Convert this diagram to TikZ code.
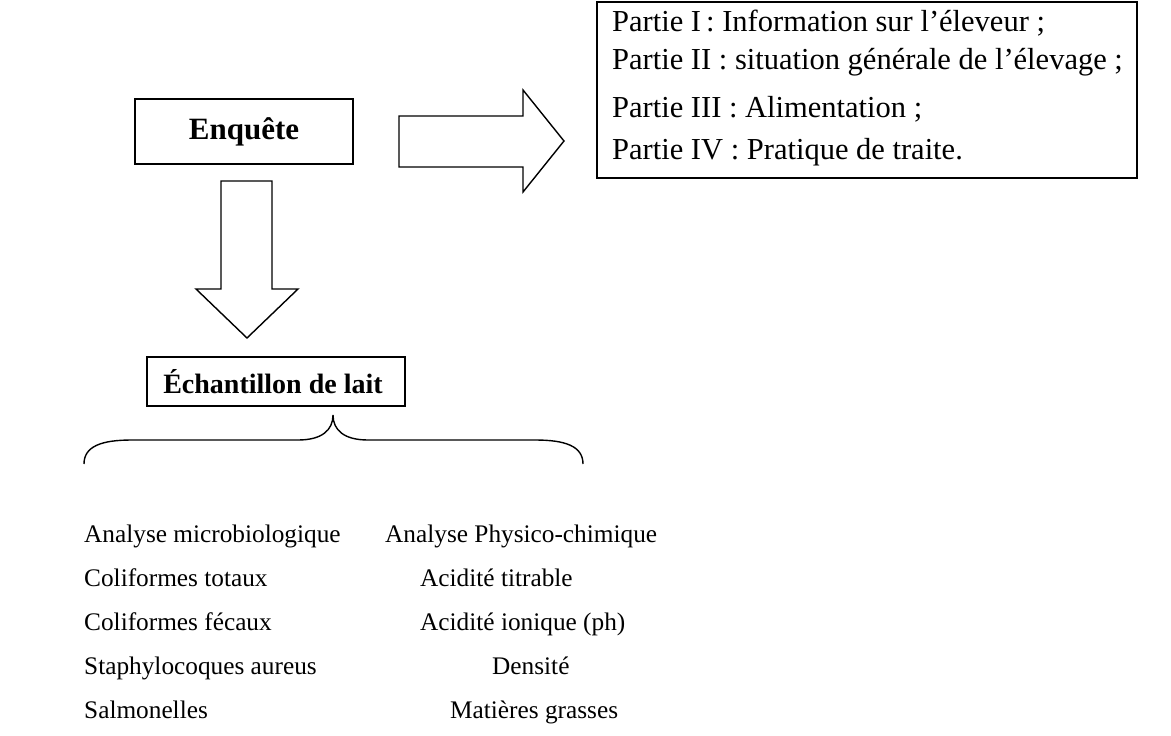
\documentclass[tikz,border=0pt]{standalone}
\usepackage{fontspec}
\setmainfont{Liberation Serif}
\begin{document}
\begin{tikzpicture}[x=1pt,y=-1pt,
  box/.style={draw,line width=1.4pt,inner sep=0pt},
  blk/.style={draw,line width=1.4pt,line join=miter,fill=white},
  head/.style={font=\fontsize{28}{32}\selectfont\bfseries},
  ptxt/.style={anchor=base west,inner sep=0pt,font=\fontsize{30.5}{34}\selectfont},
  btxt/.style={anchor=base west,inner sep=0pt,font=\fontsize{25.3}{30}\selectfont}]
\path[use as bounding box] (0,0) rectangle (1171,736);
% Enquete box
\draw[box] (135,99) rectangle (353,164);
\node[head,font=\fontsize{31}{34}\selectfont\bfseries] (enq) at (244,131.5) {Enquête};
% right block arrow
\draw[blk] (399,116) -- (523,116) -- (523,90) -- (564,141) -- (523,192) -- (523,167) -- (399,167) -- cycle;
% right box
\draw[box] (597,2) rectangle (1137,178);
\node[ptxt] (p1) at (612,31) {Partie I\,: Information sur l’éleveur ;};
\node[ptxt] (p2) at (612,69) {Partie II : situation générale de l’élevage ;};
\node[ptxt] (p3) at (612,117) {Partie III : Alimentation ;};
\node[ptxt] (p4) at (612,159) {Partie IV : Pratique de traite.};
% down block arrow
\draw[blk] (221,181) -- (272,181) -- (272,289) -- (298,289) -- (247,338) -- (196,289) -- (221,289) -- cycle;
% Echantillon box
\draw[box] (147,357) rectangle (405,406);
\node[head] (ech) at (273,381.5) {Échantillon de lait};
% brace
\coordinate (bl) at (84,464);
\coordinate (bt) at (333,415);
\coordinate (br) at (583,464);
\draw[line width=1.4pt] (bl) .. controls (84,446) and (102,440) .. (132,440) -- (298,440)
  .. controls (322,440) and (333,430) .. (bt)
  .. controls (333,430) and (344,440) .. (368,440) -- (535,440)
  .. controls (565,440) and (583,446) .. (br);
% left column
\node[btxt] (a1) at (84,542) {Analyse microbiologique};
\node[btxt] (a2) at (84,586) {Coliformes totaux};
\node[btxt] (a3) at (84,630) {Coliformes fécaux};
\node[btxt] (a4) at (84,674) {Staphylocoques aureus};
\node[btxt] (a5) at (84,718) {Salmonelles};
% right column
\node[btxt] (b1) at (385,542) {Analyse Physico-chimique};
\node[btxt] (b2) at (420,586) {Acidité titrable};
\node[btxt] (b3) at (420,630) {Acidité ionique (ph)};
\node[btxt] (b4) at (492,674) {Densité};
\node[btxt] (b5) at (450,718) {Matières grasses};
\end{tikzpicture}
\end{document}
